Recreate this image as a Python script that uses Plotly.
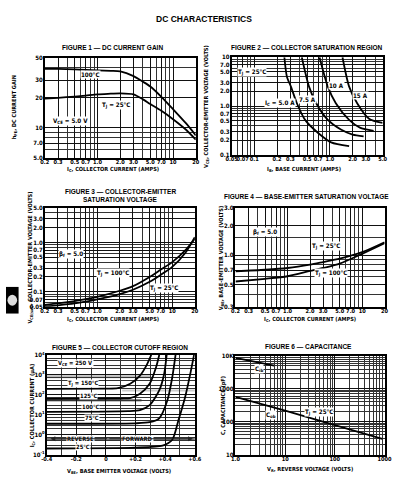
import math
import plotly.graph_objects as go

W, H = 409, 493
FONT = "Liberation Sans Narrow, DejaVu Sans Condensed, Liberation Sans, Arial"
FONT_T = "Liberation Sans, Arial"

# ---------------- data ----------------
# Figure 1 - DC current gain
f1_ic = [0.2, 0.3, 0.5, 0.7, 1.0, 1.5, 2.0, 3.0, 4.0, 5.0, 7.0, 10, 15, 20]
f1_hfe_100 = [39, 39, 38.6, 38.2, 37.8, 37.3, 36.8, 33, 29, 26, 20.5, 15.4, 11, 8.4]
f1_hfe_25 = [19.6, 20, 20.6, 21.1, 21.7, 22, 22.2, 21.7, 19.3, 17.3, 14.8, 12.2, 9.5, 7.6]

# Figure 2 - collector saturation region
f2_ib_5 = [0.25, 0.27, 0.305, 0.366, 0.47, 0.70, 1.04, 1.8]
f2_v_5 = [10, 4.0, 2.5, 1.14, 0.52, 0.28, 0.18, 0.15]
f2_ib_75 = [0.425, 0.53, 0.66, 0.94, 1.4, 2.0, 2.8]
f2_v_75 = [10, 2.5, 1.14, 0.52, 0.33, 0.26, 0.24]
f2_ib_10 = [0.73, 0.94, 1.2, 1.8, 2.5, 3.8]
f2_v_10 = [10, 2.5, 1.14, 0.52, 0.36, 0.31]
f2_ib_15 = [1.47, 1.8, 2.3, 3.3, 5.0]
f2_v_15 = [10, 2.5, 1.14, 0.55, 0.45]

# Figure 3 - collector-emitter saturation voltage
f3_ic = [0.2, 0.3, 0.5, 0.7, 1.0, 2.0, 3.0, 5.0, 7.0, 10, 15, 20]
f3_v_100 = [0.054, 0.058, 0.065, 0.071, 0.079, 0.105, 0.13, 0.2, 0.28, 0.40, 0.70, 1.19]
f3_v_25 = [0.05, 0.053, 0.058, 0.063, 0.07, 0.09, 0.11, 0.16, 0.22, 0.32, 0.62, 1.28]

# Figure 4 - base-emitter saturation voltage
f4_ic = [0.2, 0.5, 1.0, 2.0, 3.0, 5.0, 10, 20]
f4_v_25 = [0.686, 0.71, 0.74, 0.80, 0.85, 0.92, 1.07, 1.35]
f4_v_100 = [0.54, 0.575, 0.61, 0.69, 0.74, 0.82, 1.03, 1.32]

# Figure 5 - collector cutoff region
f5_v_150 = [-0.4, 0.0, 0.08, 0.164, 0.23, 0.273, 0.306]
f5_i_150 = [200, 205, 215, 355, 910, 2900, 10000]
f5_v_125 = [-0.4, 0.1, 0.164, 0.23, 0.295, 0.338, 0.36]
f5_i_125 = [62, 65, 68, 112, 355, 2350, 10000]
f5_v_100 = [-0.4, 0.15, 0.23, 0.295, 0.36, 0.393, 0.41]
f5_i_100 = [14, 15, 17, 30, 165, 1100, 10000]
f5_v_75 = [-0.4, 0.2, 0.295, 0.36, 0.415, 0.448, 0.47]
f5_i_75 = [3.5, 3.7, 4.2, 6.6, 53, 760, 10000]
f5_v_25 = [-0.4, 0.2, 0.382, 0.448, 0.49, 0.535, 0.567, 0.595]
f5_i_25 = [0.2, 0.22, 0.28, 0.55, 5.4, 78, 910, 10000]

# Figure 6 - capacitance
f6_v_cib = [1.0, 6.0]
f6_c_cib = [8700, 5100]
f6_v_cob = [1.0, 10, 100, 900]
f6_c_cob = [570, 215, 78, 30]

# tick labels
t_ic = [0.2, 0.3, 0.5, 0.7, 1.0, 2.0, 3.0, 5.0, 7.0, 10, 20]
t_ic_txt = ["0.2", "0.3", "0.5", "0.7", "1.0", "2.0", "3.0", "5.0", "7.0", "10", "20"]
m_ic = [0.4, 0.6, 0.8, 0.9, 4, 6, 8, 9]

# ---------------- helpers ----------------
def px(x):
    return x / W


def py(y):
    return 1 - y / H


def dom_x(a, b):
    return [px(a), px(b)]


def dom_y(top, bot):
    return [py(bot), py(top)]


def decades(lo_exp, hi_exp, mults):
    out = []
    for e in range(lo_exp, hi_exp + 1):
        for m in mults:
            out.append(m * 10 ** e)
    return out


def axis(domain, rng, typ, major, labels, minor, anchor, fs=6, standoff=-1):
    return dict(
        domain=domain, range=rng, type=typ, anchor=anchor,
        tickmode="array", tickvals=major, ticktext=labels, tickangle=0,
        showgrid=True, gridcolor="#111", gridwidth=0.9,
        minor=dict(tickmode="array", tickvals=minor, showgrid=True,
                   gridcolor="#333", gridwidth=0.5, ticks=""),
        showline=True, linecolor="black", linewidth=1.6, mirror=True,
        ticks="", ticklen=0, zeroline=False, fixedrange=True,
        ticklabelstandoff=standoff,
        tickfont=dict(size=fs, family=FONT, color="black", weight="bold"),
    )


fig = go.Figure()


def curve(x, y, ax):
    fig.add_trace(go.Scatter(x=x, y=y, mode="lines", xaxis="x" + ax, yaxis="y" + ax,
                             line=dict(color="black", width=1.8, shape="spline", smoothing=0.7),
                             showlegend=False, hoverinfo="skip"))


curve(f1_ic, f1_hfe_100, "")
curve(f1_ic, f1_hfe_25, "")
curve(f2_ib_5, f2_v_5, "2")
curve(f2_ib_75, f2_v_75, "2")
curve(f2_ib_10, f2_v_10, "2")
curve(f2_ib_15, f2_v_15, "2")
curve(f3_ic, f3_v_100, "3")
curve(f3_ic, f3_v_25, "3")
curve(f4_ic, f4_v_25, "4")
curve(f4_ic, f4_v_100, "4")
curve(f5_v_150, f5_i_150, "5")
curve(f5_v_125, f5_i_125, "5")
curve(f5_v_100, f5_i_100, "5")
curve(f5_v_75, f5_i_75, "5")
curve(f5_v_25, f5_i_25, "5")
curve(f6_v_cib, f6_c_cib, "6")
curve(f6_v_cob, f6_c_cob, "6")

L = math.log10
XF = 5.6   # x tick font size
XS = -2    # x tick label standoff

lay = {}
# Fig 1
lay["xaxis"] = axis(dom_x(40, 196), [L(0.2), L(20)], "log", t_ic, t_ic_txt, m_ic, "y", XF, XS)
lay["yaxis"] = axis(dom_y(55, 156), [L(5), L(50)], "log", [5, 7, 10, 20, 30, 50],
                    ["5.0", "7.0", "10", "20", "30", "50"], [6, 8, 9, 40], "x")
# Fig 2
t2x = [0.05, 0.07, 0.1, 0.2, 0.3, 0.5, 0.7, 1.0, 2.0, 3.0, 5.0]
lay["xaxis2"] = axis(dom_x(233, 389), [L(0.05), L(5)], "log", t2x,
                     ["0.05", "0.07", "0.1", "0.2", "0.3", "0.5", "0.7", "1.0", "2.0", "3.0", "5.0"],
                     [0.06, 0.08, 0.09, 0.4, 0.6, 0.8, 0.9, 4], "y2", XF, XS)
t2y = [0.1, 0.2, 0.3, 0.5, 0.7, 1.0, 2.0, 3.0, 5.0, 7.0, 10]
lay["yaxis2"] = axis(dom_y(54, 153), [L(0.1), L(10)], "log", t2y,
                     ["0.1", "0.2", "0.3", "0.5", "0.7", "1.0", "2.0", "3.0", "5.0", "7.0", "10"],
                     [0.4, 0.6, 0.8, 0.9, 4, 6, 8, 9], "x2")
# Fig 3
lay["xaxis3"] = axis(dom_x(40, 195), [L(0.2), L(20)], "log", t_ic, t_ic_txt, m_ic, "y3", XF, XS)
t3y = [0.05, 0.07, 0.1, 0.2, 0.3, 0.5, 0.7, 1.0, 2.0, 3.0, 5.0]
lay["yaxis3"] = axis(dom_y(207, 307), [L(0.05), L(5)], "log", t3y,
                     ["0.05", "0.07", "0.1", "0.2", "0.3", "0.5", "0.7", "1.0", "2.0", "3.0", "5.0"],
                     [0.06, 0.08, 0.09, 0.4, 0.6, 0.8, 0.9, 4], "x3")
# Fig 4
lay["xaxis4"] = axis(dom_x(237, 391), [L(0.2), L(20)], "log", t_ic, t_ic_txt, m_ic, "y4", XF, XS)
lay["yaxis4"] = axis(dom_y(207, 307), [L(0.3), L(3)], "log", [0.3, 0.5, 0.7, 1.0, 2.0, 3.0],
                     ["0.3", "0.5", "0.7", "1.0", "2.0", "3.0"], [0.4, 0.6, 0.8, 0.9, 1.5], "x4")
# Fig 5
lay["xaxis5"] = axis(dom_x(42, 195), [-0.4, 0.6], "linear", [-0.4, -0.2, 0, 0.2, 0.4, 0.6],
                     ["-0.4", "-0.2", "0", "+0.2", "+0.4", "+0.6"], [-0.3, -0.1, 0.1, 0.3, 0.5],
                     "y5", XF, XS)
lay["yaxis5"] = axis(dom_y(356, 457), [-1, 4], "log", [0.1, 1, 10, 100, 1000, 10000],
                     ["10<sup>-1</sup>", "10<sup>0</sup>", "10<sup>1</sup>", "10<sup>2</sup>",
                      "10<sup>3</sup>", "10<sup>4</sup>"], decades(-1, 3, [2, 3, 5, 7]), "x5")
# Fig 6
lay["xaxis6"] = axis(dom_x(237, 391), [0, 3], "log", [1, 10, 100, 1000],
                     ["1.0", "10", "100", "1000"], decades(0, 2, [2, 3, 4, 5, 6, 7, 8, 9]),
                     "y6", XF, XS)
lay["yaxis6"] = axis(dom_y(357, 457), [1, 4], "log", [10, 100, 1000, 10000],
                     ["10", "100", "1000", "10K"], decades(1, 3, [2, 3, 4, 5, 6, 7, 8, 9]), "x6")

fig.update_layout(**lay)

ann = []


def text(x, y, s, size=6.5, bold=True, angle=0, bg=None, xanchor="center", fam=FONT):
    d = dict(x=px(x), y=py(y), xref="paper", yref="paper", text=s, showarrow=False,
             textangle=angle, xanchor=xanchor, yanchor="middle",
             font=dict(size=size, family=fam, color="black", weight="bold" if bold else "normal"))
    if bg:
        d["bgcolor"] = bg
        d["borderpad"] = 0
    ann.append(d)


# Titles
text(205, 15, "DC CHARACTERISTICS", size=8.5, fam=FONT_T)
text(110, 44, "FIGURE 1 — DC CURRENT GAIN", size=6.5, fam=FONT_T)
text(311, 44, "FIGURE 2 — COLLECTOR SATURATION REGION", size=6.5, fam=FONT_T)
text(118, 190, "FIGURE 3 — COLLECTOR-EMITTER", size=6.5, fam=FONT_T)
text(118, 198, "SATURATION VOLTAGE", size=6.5, fam=FONT_T)
text(310, 195, "FIGURE 4 — BASE-EMITTER SATURATION VOLTAGE", size=6.5, fam=FONT_T)
text(118, 348, "FIGURE 5 — COLLECTOR CUTOFF REGION", size=6.5, fam=FONT_T)
text(312, 347, "FIGURE 6 — CAPACITANCE", size=6.5, fam=FONT_T)

# axis titles
AS = 5.6
text(110, 168, "I<sub>C</sub>, COLLECTOR CURRENT (AMPS)", size=AS)
text(9, 105, "h<sub>FE</sub>, DC CURRENT GAIN", size=AS, angle=-90)
text(308, 168, "I<sub>B</sub>, BASE CURRENT (AMPS)", size=AS)
text(207, 104, "V<sub>CE</sub>, COLLECTOR-EMITTER VOLTAGE (VOLTS)", size=AS, angle=-90)
text(111, 320, "I<sub>C</sub>, COLLECTOR CURRENT (AMPS)", size=AS)
text(25, 257, "V<sub>CE(sat)</sub>, COLLECTOR-EMITTER VOLTAGE (VOLTS)", size=AS, angle=-90)
text(314, 320, "I<sub>C</sub>, COLLECTOR CURRENT (AMPS)", size=AS)
text(222, 257, "V<sub>BE</sub>, BASE-EMITTER VOLTAGE (VOLTS)", size=AS, angle=-90)
text(117, 474, "V<sub>BE</sub>, BASE EMITTER VOLTAGE (VOLTS)", size=AS)
text(27, 407, "I<sub>C</sub>, COLLECTOR CURRENT (µA)", size=AS, angle=-90)
text(314, 472, "V<sub>R</sub>, REVERSE VOLTAGE (VOLTS)", size=AS)
text(224, 407, "C, CAPACITANCE (pF)", size=AS, angle=-90)

# in-plot labels
W_ = "white"
text(87, 72, "100°C", size=6.2, bg=W_)
text(114, 102, "T<sub>J</sub> = 25°C", size=6.2, bg=W_)
text(67, 119, "V<sub>CE</sub> = 5.0 V", size=6.2, bg=W_)

text(254, 69, "T<sub>J</sub> = 25°C", size=6.2, bg=W_)
text(283, 100, "I<sub>C</sub> = 5.0 A", size=6.2, bg=W_)
text(311, 97, "7.5 A", size=6.2, bg=W_)
text(341, 83, "10 A", size=6.2, bg=W_)
text(366, 93, "15 A", size=6.2, bg=W_)

text(67, 254, "β<sub>f</sub> = 5.0", size=6.2, bg=W_)
text(110, 273, "T<sub>J</sub> = 100°C", size=6.2, bg=W_)
text(163, 288, "T<sub>J</sub> = 25°C", size=6.2, bg=W_)

text(268, 231, "β<sub>f</sub> = 5.0", size=6.2, bg=W_)
text(330, 245, "T<sub>J</sub> = 25°C", size=6.2, bg=W_)
text(336, 273, "T<sub>J</sub> = 100°C", size=6.2, bg=W_)

text(72, 365, "V<sub>CE</sub> = 250 V", size=5.8, bg=W_)
text(80, 385, "T<sub>J</sub> = 150°C", size=5.8, bg=W_)
text(85, 398, "125°C", size=5.8, bg=W_)
text(87, 409, "100°C", size=5.8, bg=W_)
text(89, 420, "75°C", size=5.8, bg=W_)
text(80, 449, "25°C", size=5.8, bg=W_)
text(77, 441, "REVERSE", size=5.8, bg=W_)
text(136, 441, "FORWARD", size=5.8, bg=W_)

text(261, 370, "C<sub>ib</sub>", size=6.2, bg=W_)
text(274, 417, "C<sub>ob</sub>", size=6.2, bg=W_)
text(323, 414, "T<sub>J</sub> = 25°C", size=6.2, bg=W_)

# arrows REVERSE / FORWARD
for (x0, x1) in [(104, 46), (108, 193)]:
    ann.append(dict(x=px(x1), y=py(441), ax=x0 - x1, ay=0, xref="paper", yref="paper",
                    axref="pixel", ayref="pixel", text="", showarrow=True, arrowhead=2,
                    arrowsize=0.8, arrowwidth=1.2, arrowcolor="#222"))

shapes = []
# gray bands (printed shading) in figure 5
for (x0, x1, y, w, c) in [(42, 195, 441, 3, "#777"), (42, 150, 378, 3, "#bbb"),
                           (42, 140, 402, 2.5, "#888"), (120, 195, 392, 2, "#ccc")]:
    shapes.append(dict(type="line", xref="paper", yref="paper", x0=px(x0), x1=px(x1),
                       y0=py(y), y1=py(y), line=dict(color=c, width=w), layer="below"))
# edge tab mark
shapes.append(dict(type="rect", xref="paper", yref="paper", x0=0, x1=px(13),
                   y0=py(314), y1=py(287), fillcolor="black", line=dict(width=0)))
shapes.append(dict(type="circle", xref="paper", yref="paper", x0=px(1.5), x1=px(11.5),
                   y0=py(306), y1=py(295), fillcolor="#ddd", line=dict(width=0)))

fig.update_layout(
    width=W, height=H, margin=dict(l=0, r=0, t=0, b=0),
    paper_bgcolor="white", plot_bgcolor="white",
    annotations=ann, shapes=shapes, showlegend=False,
    font=dict(family=FONT, color="black"),
)

fig.write_html("out.html", config={"displayModeBar": False},
               post_script="document.body.style.margin='0px';document.body.style.overflow='hidden';")
